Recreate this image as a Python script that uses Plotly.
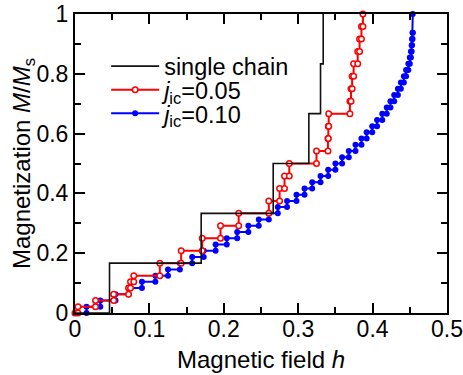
import plotly.graph_objects as go

# ---- data ----
chain_h = [0.0464, 0.1696, 0.2664, 0.3143, 0.3300, 0.3336]
chain_m = [0.1667, 0.3333, 0.5000, 0.6667, 0.8333, 1.0000]

red_h = [0.004, 0.0276, 0.052, 0.072, 0.0746, 0.079, 0.114, 0.1427, 0.171, 0.1956,
         0.220, 0.2605, 0.275, 0.2816, 0.288, 0.3246, 0.340, 0.3405, 0.341, 0.3695,
         0.371, 0.3725, 0.3745, 0.380, 0.3825, 0.385, 0.387]
red_m = [0.0208, 0.0417, 0.0625, 0.0833, 0.1042, 0.125, 0.1667, 0.2083, 0.25, 0.2917,
         0.3333, 0.375, 0.4167, 0.4583, 0.5, 0.5417, 0.5833, 0.625, 0.6667, 0.7083,
         0.75, 0.7917, 0.8333, 0.875, 0.9167, 0.9583, 1.0]

blue_h = [0.0155, 0.034, 0.0544, 0.072, 0.090, 0.108, 0.125, 0.141, 0.1575, 0.173,
          0.189, 0.204, 0.218, 0.233, 0.247, 0.2605, 0.2726, 0.285, 0.2977, 0.3085,
          0.3188, 0.330, 0.3403, 0.350, 0.359, 0.368, 0.377, 0.385, 0.392, 0.3995,
          0.406, 0.413, 0.419, 0.424, 0.429, 0.434, 0.438, 0.442, 0.445, 0.448,
          0.450, 0.4515, 0.4525, 0.453, 0.4537, 0.454]
blue_m = [0.0208, 0.0417, 0.0625, 0.0833, 0.1042, 0.125, 0.1458, 0.1667, 0.1875, 0.2083,
          0.2292, 0.25, 0.2708, 0.2917, 0.3125, 0.3333, 0.3542, 0.375, 0.3958, 0.4167,
          0.4375, 0.4583, 0.4792, 0.5, 0.5208, 0.5417, 0.5625, 0.5833, 0.6042, 0.625,
          0.6458, 0.6667, 0.6875, 0.7083, 0.7292, 0.75, 0.7708, 0.7917, 0.8125, 0.8333,
          0.8542, 0.875, 0.8958, 0.9167, 0.9375, 1.0]

x_ticks = [0, 0.1, 0.2, 0.3, 0.4, 0.5]
x_labels = ["0", "0.1", "0.2", "0.3", "0.4", "0.5"]
y_ticks = [0, 0.2, 0.4, 0.6, 0.8, 1.0]
y_labels = ["0", "0.2", "0.4", "0.6", "0.8", "1"]

names = ["single chain", "<i>j</i><sub>ic</sub>=0.05", "<i>j</i><sub>ic</sub>=0.10"]
x_title = "Magnetic field <i>h</i>"
y_title = "Magnetization <i>M</i>/<i>M</i><sub>s</sub>"


def staircase(hs, ms, h0, m0):
    xs, ys = [h0], [m0]
    prev = m0
    for h, m in zip(hs, ms):
        xs += [h, h]
        ys += [prev, m]
        prev = m
    return xs, ys


FONT = "Arial, 'Liberation Sans', Helvetica, sans-serif"
fig = go.Figure()

bx, by = staircase(blue_h, blue_m, blue_h[0], 0.0)
bx, by = bx[1:], by[1:]
fig.add_trace(go.Scatter(x=bx, y=by, mode="lines+markers", name=names[2],
                         line=dict(color="#0000ff", width=2),
                         marker=dict(symbol="circle", size=6, color="#0000ff"),
                         cliponaxis=False, legend="legend3"))

rx, ry = staircase(red_h, red_m, 0.0, 0.0)
fig.add_trace(go.Scatter(x=rx, y=ry, mode="lines+markers", name=names[1],
                         line=dict(color="#ff0000", width=2),
                         marker=dict(symbol="circle", size=5.5, color="white",
                                     line=dict(color="#ff0000", width=1.5)),
                         cliponaxis=False, legend="legend2"))

cx, cy = staircase(chain_h, chain_m, 0.0, 0.0)
fig.add_trace(go.Scatter(x=cx, y=cy, mode="lines", name=names[0],
                         line=dict(color="#111111", width=1.6),
                         cliponaxis=False, legend="legend"))

axis_common = dict(showline=True, linewidth=2, linecolor="black", mirror="ticks",
                   ticks="inside", ticklen=10, tickwidth=1.5, tickcolor="black",
                   showgrid=False, zeroline=False, automargin=False,
                   ticklabeloverflow="allow",
                   tickfont=dict(family=FONT, size=23, color="black"))

fig.update_xaxes(range=[0, 0.5], tickvals=x_ticks, ticktext=x_labels,
                 ticklabelstandoff=-6,
                 minor=dict(ticks="inside", ticklen=6, tickwidth=1.5, dtick=0.05,
                            tickcolor="black"),
                 **axis_common)
fig.update_yaxes(range=[0, 1], tickvals=y_ticks, ticktext=y_labels,
                 minor=dict(ticks="inside", ticklen=6, tickwidth=1.5, dtick=0.1,
                            tickcolor="black"),
                 **axis_common)

# axis titles as text annotations for precise placement
fig.add_annotation(text=x_title, xref="paper", yref="paper", x=0.5, y=-0.105,
                   xanchor="center", yanchor="top", showarrow=False,
                   font=dict(family=FONT, size=24, color="black"))
fig.add_annotation(text=y_title, xref="paper", yref="paper", x=-0.1384, y=0.5,
                   xanchor="center", yanchor="middle", textangle=-90, showarrow=False,
                   font=dict(family=FONT, size=24, color="black"))

leg = dict(bgcolor="rgba(0,0,0,0)", borderwidth=0, itemwidth=48,
           font=dict(family=FONT, size=23.5, color="black"),
           xanchor="left", yanchor="middle", x=0.0837)
fig.update_layout(
    width=463, height=375,
    margin=dict(l=74.5, r=16.3, t=14, b=62.3, autoexpand=False),
    paper_bgcolor="white", plot_bgcolor="white",
    showlegend=True,
    legend=dict(**leg, y=0.825),
    legend2=dict(**leg, y=0.746),
    legend3=dict(**leg, y=0.667),
)

fig.write_html("out.html",
               config={"displayModeBar": False},
               post_script="document.body.style.margin='0px';"
                           "document.body.style.overflow='hidden';")
